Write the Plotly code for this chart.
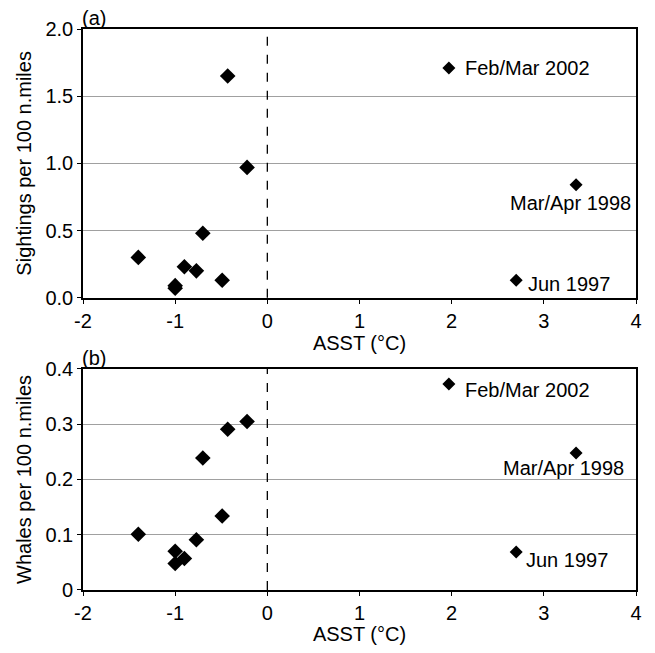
import plotly.graph_objects as go
from plotly.subplots import make_subplots

# ---- data ----
asst = [-0.43, -0.22, -0.70, -1.40, -0.90, -0.77, -0.49, -1.00, -1.00]
sightings = [1.65, 0.97, 0.48, 0.30, 0.23, 0.20, 0.13, 0.09, 0.07]
whales = [0.291, 0.305, 0.239, 0.101, 0.057, 0.091, 0.134, 0.070, 0.048]

label_names = ["Feb/Mar 2002", "Mar/Apr 1998", "Jun 1997"]
label_asst = [1.97, 3.35, 2.70]
label_sightings = [1.71, 0.84, 0.13]
label_whales = [0.373, 0.248, 0.069]

x_ticks = [-2, -1, 0, 1, 2, 3, 4]
x_ticktext = ["-2", "-1", "0", "1", "2", "3", "4"]
y_ticks_a = [0.0, 0.5, 1.0, 1.5, 2.0]
y_ticktext_a = ["0.0", "0.5", "1.0", "1.5", "2.0"]
y_ticks_b = [0, 0.1, 0.2, 0.3, 0.4]
y_ticktext_b = ["0", "0.1", "0.2", "0.3", "0.4"]

FONT = "Liberation Sans, Arial, sans-serif"

fig = make_subplots(rows=2, cols=1, vertical_spacing=0.1)

marker = dict(symbol="diamond", size=12, color="black", line=dict(width=0))
marker_lab = dict(symbol="diamond", size=10, color="black", line=dict(width=0))

fig.add_trace(go.Scatter(x=asst, y=sightings, mode="markers", marker=marker, showlegend=False), row=1, col=1)
fig.add_trace(go.Scatter(x=label_asst, y=label_sightings, mode="markers", marker=marker_lab, showlegend=False), row=1, col=1)
fig.add_trace(go.Scatter(x=asst, y=whales, mode="markers", marker=marker, showlegend=False), row=2, col=1)
fig.add_trace(go.Scatter(x=label_asst, y=label_whales, mode="markers", marker=marker_lab, showlegend=False), row=2, col=1)

# label offsets (px): (xshift, yshift, xanchor)
offs_a = [(14, 0, "left"), (-6, -18, "center"), (10, -4, "left")]
offs_b = [(14, -6, "left"), (-13, -15, "center"), (8, -8, "left")]

ann = []
for name, x, y, (dx, dy, xa) in zip(label_names, label_asst, label_sightings, offs_a):
    ann.append(dict(x=x, y=y, xref="x", yref="y", text=name, showarrow=False,
                    xshift=dx, yshift=dy, xanchor=xa, yanchor="middle",
                    font=dict(size=20, color="black", family=FONT)))
for name, x, y, (dx, dy, xa) in zip(label_names, label_asst, label_whales, offs_b):
    ann.append(dict(x=x, y=y, xref="x2", yref="y2", text=name, showarrow=False,
                    xshift=dx, yshift=dy, xanchor=xa, yanchor="middle",
                    font=dict(size=20, color="black", family=FONT)))

ann.append(dict(x=0, y=1.0, xref="paper", yref="paper", text="(a)", showarrow=False,
                xanchor="left", yanchor="bottom", yshift=-2, xshift=-3,
                font=dict(size=20, color="black", family=FONT)))
ann.append(dict(x=0, y=0.394, xref="paper", yref="paper", text="(b)", showarrow=False,
                xanchor="left", yanchor="bottom", yshift=-2, xshift=-3,
                font=dict(size=20, color="black", family=FONT)))

shapes = [
    dict(type="line", xref="x", yref="y domain", x0=0, x1=0, y0=0, y1=1,
         line=dict(color="black", width=1.3, dash="dash")),
    dict(type="line", xref="x2", yref="y2 domain", x0=0, x1=0, y0=0, y1=1,
         line=dict(color="black", width=1.3, dash="dash")),
]

axis_common = dict(showline=True, linecolor="black", linewidth=1.6, mirror=True,
                   ticks="outside", ticklen=4, tickcolor="black", tickwidth=1,
                   tickfont=dict(size=20, color="black", family=FONT),
                   zeroline=False)

fig.update_xaxes(**axis_common, range=[-2, 4], tickvals=x_ticks, ticktext=x_ticktext, showgrid=False,
                 title=dict(text="ASST (°C)", font=dict(size=20, color="black", family=FONT), standoff=2))
fig.update_yaxes(**axis_common, showgrid=True, gridcolor="#a0a0a0", gridwidth=1)

fig.update_yaxes(range=[0, 2.0], tickvals=y_ticks_a, ticktext=y_ticktext_a,
                 title=dict(text="Sightings per 100 n.miles", font=dict(size=20, color="black", family=FONT), standoff=8),
                 row=1, col=1)
fig.update_yaxes(range=[0, 0.4], tickvals=y_ticks_b, ticktext=y_ticktext_b,
                 title=dict(text="Whales per 100 n.miles", font=dict(size=20, color="black", family=FONT), standoff=8),
                 row=2, col=1)

fig.update_layout(
    width=639, height=637,
    margin=dict(l=75, r=5, t=21, b=47),
    paper_bgcolor="white", plot_bgcolor="white",
    annotations=ann, shapes=shapes,
    font=dict(family=FONT, color="black"),
)
fig.layout.xaxis.domain = [0, 1]
fig.layout.xaxis2.domain = [0, 1]
fig.layout.yaxis.domain = [0.521, 1.0]
fig.layout.yaxis2.domain = [0.0, 0.394]

fig.write_html("out.html")
